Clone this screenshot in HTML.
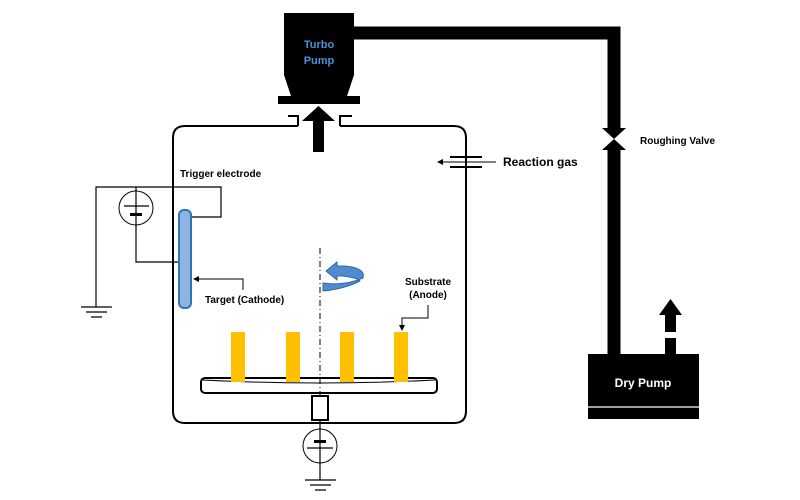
<!DOCTYPE html>
<html><head><style>body{margin:0;background:#fff}svg{display:block}text{font-family:"Liberation Sans",sans-serif;font-weight:bold}</style></head>
<body>
<svg width="800" height="500" viewBox="0 0 800 500" xmlns="http://www.w3.org/2000/svg">
<defs><marker id="ah" markerWidth="6" markerHeight="6" refX="5" refY="3" orient="auto"><path d="M0,0 L6,3 L0,6 z" fill="#000"/></marker></defs>
<path d="M350,33 H614 V128 M614,150 V356" fill="none" stroke="#000" stroke-width="13"/>
<polygon points="602,128 626,128 614,139" fill="#000"/>
<polygon points="602,150 626,150 614,139" fill="#000"/>
<text x="640" y="144" font-size="10">Roughing  Valve</text>
<path d="M284,13 H354 V75 L347,96 H291 L284,75 Z" fill="#000"/>
<rect x="278" y="96" width="82" height="8" fill="#000"/>
<text x="319" y="48" font-size="11" fill="#4a90d9" text-anchor="middle">Turbo</text>
<text x="319" y="64" font-size="11" fill="#4a90d9" text-anchor="middle">Pump</text>
<rect x="313" y="120" width="11" height="32" fill="#000"/>
<polygon points="302,121 335,121 318.5,106" fill="#000"/>
<path d="M298,126 H185 Q173,126 173,138 V411 Q173,423 185,423 H454 Q466,423 466,411 V138 Q466,126 454,126 H340 M298,126 V116 H288 M340,126 V116 H352" fill="none" stroke="#000" stroke-width="2"/>
<line x1="450" y1="157" x2="482" y2="157" stroke="#000" stroke-width="2"/>
<line x1="450" y1="167" x2="482" y2="167" stroke="#000" stroke-width="2"/>
<line x1="496" y1="162" x2="438" y2="162" stroke="#000" stroke-width="1" marker-end="url(#ah)"/>
<text x="503" y="166" font-size="12">Reaction gas</text>
<text x="180" y="177" font-size="10">Trigger electrode</text>
<path d="M96,307 V187 H221 V217 H190 M136,187 V262 H180" fill="none" stroke="#000" stroke-width="1.2"/>
<circle cx="136" cy="208" r="17" fill="#fff" stroke="#000" stroke-width="1"/>
<line x1="136" y1="191" x2="136" y2="225" stroke="#000" stroke-width="1.2"/>
<line x1="124" y1="206" x2="149" y2="206" stroke="#000" stroke-width="1.2"/>
<rect x="130" y="213" width="12" height="3" fill="#000"/>
<path d="M81,307 H112 M86,312 H107 M91,317 H102" stroke="#000" stroke-width="1.2"/>
<rect x="179" y="210" width="12" height="98" rx="5" fill="#8db4e2" stroke="#2e75b6" stroke-width="2"/>
<path d="M243,290 V279 H194" fill="none" stroke="#000" stroke-width="1" marker-end="url(#ah)"/>
<text x="205" y="303" font-size="10">Target (Cathode)</text>
<line x1="320" y1="248" x2="320" y2="396" stroke="#000" stroke-width="1" stroke-dasharray="6,3,1,3"/>
<path d="M323,283 Q345,286 363,278 Q366,268 345,266 L337,266 L337,262 L326,271 L337,280 L337,276 L343,276 Q358,278 360,281 Q344,289 323,291 Z" fill="#4f8ccf" stroke="#2e6aa8" stroke-width="1"/>
<rect x="201" y="378" width="236" height="15" rx="4" fill="#fff" stroke="#000" stroke-width="2"/>
<path d="M203,380 Q319,386 435,380" fill="none" stroke="#000" stroke-width="1"/>
<rect x="231" y="332" width="14" height="50" fill="#ffc000"/>
<rect x="286" y="332" width="14" height="50" fill="#ffc000"/>
<rect x="340" y="332" width="14" height="50" fill="#ffc000"/>
<rect x="394" y="332" width="14" height="50" fill="#ffc000"/>
<line x1="320" y1="378" x2="320" y2="393" stroke="#000" stroke-width="1" stroke-dasharray="6,3,1,3"/>
<rect x="312" y="396" width="16" height="24" fill="#fff" stroke="#000" stroke-width="2"/>
<text x="428" y="285" font-size="10" text-anchor="middle">Substrate</text>
<text x="428" y="298" font-size="10" text-anchor="middle">(Anode)</text>
<path d="M428,305 V318 H402 V330" fill="none" stroke="#000" stroke-width="1" marker-end="url(#ah)"/>
<line x1="320" y1="420" x2="320" y2="480" stroke="#000" stroke-width="1.2"/>
<circle cx="320" cy="446" r="17" fill="none" stroke="#000" stroke-width="1"/>
<rect x="314" y="440" width="12" height="3" fill="#000"/>
<line x1="307" y1="448" x2="333" y2="448" stroke="#000" stroke-width="1.2"/>
<path d="M305,480 H336 M310,485 H331 M315,490 H326" stroke="#000" stroke-width="1.2"/>
<rect x="588" y="354" width="111" height="65" fill="#000"/>
<line x1="588" y1="407" x2="699" y2="407" stroke="#fff" stroke-width="1.2"/>
<text x="643" y="387" font-size="12" fill="#fff" text-anchor="middle">Dry Pump</text>
<rect x="665" y="338" width="11" height="16" fill="#000"/>
<rect x="665" y="314" width="11" height="18" fill="#000"/>
<polygon points="659,315 682,315 670.5,299" fill="#000"/>
</svg>
</body></html>
